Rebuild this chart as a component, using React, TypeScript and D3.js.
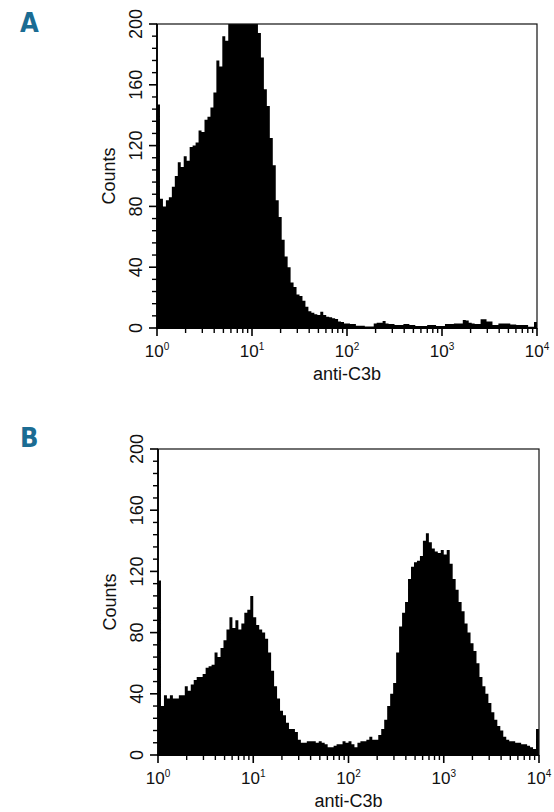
import React from "react";
import * as d3 from "d3";

// ---- Data ----
const Y_TICKS = [0, 40, 80, 120, 160, 200];
const Y_MINOR_STEP = 8;
const X_EXPONENTS = [0, 1, 2, 3, 4];
const X_LABEL = "anti-C3b";
const Y_LABEL = "Counts";
const N_CHANNELS = 128;

// Panel A histogram counts (128 log channels over 10^0 .. 10^4)
const countsA = [
  147, 85, 80, 84, 86, 93, 100, 109, 106, 113,
  110, 119, 120, 122, 130, 129, 137, 139, 145, 155,
  176, 172, 192, 189, 212, 226, 238, 246, 250, 248,
  240, 228, 216, 205, 194, 178, 157, 146, 125, 107,
  84, 73, 58, 47, 40, 30, 27, 22, 21, 18,
  14, 11, 10, 9, 8.5, 10.7, 8.5, 7.4, 7, 6.4,
  6, 4.2, 4, 3, 3, 2.6, 2.6, 1.5, 1.5, 1.5,
  1, 1, 1, 3, 3.5, 3.5, 4.6, 3, 2.6, 2.6,
  2, 2, 2, 2.6, 2.6, 2, 2, 1.3, 1.3, 1.3,
  1.3, 2, 2, 2, 1.3, 1.3, 1.3, 2.6, 2.6, 2.6,
  3, 3, 3, 5.3, 5, 3.5, 3, 2.6, 2.6, 5.7,
  5.7, 4.2, 4.2, 2, 2, 3, 3, 3, 3, 2.3,
  2.3, 2, 2, 2, 2, 0.9, 0.9, 4,
];

// Panel B histogram counts
const countsB = [
  114, 32, 39, 37, 39, 37, 37, 39, 39, 45,
  42, 46, 49, 51, 51, 53, 57, 58, 59, 67,
  64, 70, 75, 82, 90, 83, 88, 82, 86, 93,
  95, 104, 90, 85, 82, 80, 76, 67, 55, 45,
  37, 29, 26, 21, 17, 17, 15, 10, 8, 8,
  9, 9, 9, 8, 9, 8, 7, 5, 5, 6,
  7, 7, 9, 8, 9, 7, 5, 8, 9, 9,
  10, 12, 10, 10, 13, 17, 23, 32, 40, 47,
  67, 84, 93, 100, 115, 123, 126, 127, 130, 140,
  145, 139, 135, 133, 132, 134, 131, 134, 125, 115,
  108, 100, 94, 86, 80, 73, 68, 60, 51, 45,
  40, 34, 28, 23, 19, 16, 12, 10, 9, 9,
  8, 8, 7, 7, 6, 5, 4, 17,
];

const FONT = "'Liberation Sans', Arial, Helvetica, sans-serif";
const LETTER_FONT = "'Liberation Sans Narrow', 'DejaVu Sans Condensed', 'Liberation Sans', sans-serif";

type PanelProps = {
  letter: string;
  counts: number[];
  x0: number;
  x1: number;
  yTop: number;
  yBottom: number;
  letterY: number;
};

function Panel({ letter, counts, x0, x1, yTop, yBottom, letterY }: PanelProps) {
  const x = d3.scaleLog().domain([1, 10000]).range([x0, x1]);
  const y = d3.scaleLinear().domain([0, 200]).range([yBottom, yTop]).clamp(true);

  const edges = d3.range(N_CHANNELS + 1).map((i) => Math.pow(10, (i * 4) / N_CHANNELS));
  const pts = edges.map((e, i) => ({ e, c: counts[Math.min(i, counts.length - 1)] }));
  const area = d3
    .area<{ e: number; c: number }>()
    .x((d) => x(d.e))
    .y0(y(0))
    .y1((d) => y(d.c))
    .curve(d3.curveStepAfter);

  const minorY = d3.range(0, 200 + 0.001, Y_MINOR_STEP).filter((v) => !Y_TICKS.includes(v));
  const minorX: number[] = [];
  for (let p = 0; p < 4; p++) for (let k = 2; k <= 9; k++) minorX.push(k * Math.pow(10, p));

  const labelBaseX = x0 - 15;
  const midY = (yTop + yBottom) / 2;
  const midX = (x0 + x1) / 2;

  return (
    <g>
      <text x={20} y={letterY} fontFamily={LETTER_FONT} fontWeight="bold" fontSize={27} fill="#1b6c93">
        {letter}
      </text>
      <path d={area(pts) || ""} fill="#000" stroke="none" />
      {/* frame */}
      <rect x={x0} y={yTop} width={x1 - x0} height={yBottom - yTop} fill="none" stroke="#111" strokeWidth={1.2} />
      <line x1={x0} x2={x0} y1={yTop} y2={yBottom + 1} stroke="#000" strokeWidth={1.8} />
      <line x1={x0 - 1} x2={x1} y1={yBottom} y2={yBottom} stroke="#000" strokeWidth={1.8} />
      {/* y ticks */}
      {Y_TICKS.map((v) => (
        <line key={"ym" + v} x1={x0 - 8} x2={x0} y1={y(v)} y2={y(v)} stroke="#000" strokeWidth={1.6} />
      ))}
      {minorY.map((v) => (
        <line key={"yn" + v} x1={x0 - 5} x2={x0} y1={y(v)} y2={y(v)} stroke="#000" strokeWidth={1.4} />
      ))}
      {Y_TICKS.map((v) => (
        <text
          key={"yl" + v}
          transform={`translate(${labelBaseX},${y(v)}) rotate(-90)`}
          textAnchor="middle"
          fontFamily={FONT}
          fontSize={18}
          fill="#111"
        >
          {v}
        </text>
      ))}
      <text
        transform={`translate(${x0 - 42},${midY}) rotate(-90)`}
        textAnchor="middle"
        fontFamily={FONT}
        fontSize={18}
        fill="#111"
      >
        {Y_LABEL}
      </text>
      {/* x ticks */}
      {X_EXPONENTS.map((p) => (
        <line
          key={"xm" + p}
          x1={x(Math.pow(10, p))}
          x2={x(Math.pow(10, p))}
          y1={yBottom}
          y2={yBottom + 8}
          stroke="#000"
          strokeWidth={1.6}
        />
      ))}
      {minorX.map((v) => (
        <line key={"xn" + v} x1={x(v)} x2={x(v)} y1={yBottom} y2={yBottom + 5} stroke="#000" strokeWidth={1.4} />
      ))}
      {X_EXPONENTS.map((p) => (
        <text
          key={"xl" + p}
          x={x(Math.pow(10, p))}
          y={yBottom + 29}
          textAnchor="middle"
          fontFamily={FONT}
          fontSize={17}
          fill="#111"
        >
          <tspan>10</tspan>
          <tspan dy={-7} fontSize={10}>
            {p}
          </tspan>
        </text>
      ))}
      <text x={midX} y={yBottom + 52} textAnchor="middle" fontFamily={FONT} fontSize={18} fill="#111">
        {X_LABEL}
      </text>
    </g>
  );
}

export default function App() {
  return (
    <svg
      width={554}
      height={812}
      viewBox="0 0 554 812"
      style={{ position: "absolute", left: 0, top: 0, background: "#fff" }}
    >
      <rect x={0} y={0} width={554} height={812} fill="#fff" />
      <Panel letter="A" counts={countsA} x0={157} x1={537} yTop={24} yBottom={328} letterY={32} />
      <Panel letter="B" counts={countsB} x0={158} x1={539} yTop={449} yBottom={755} letterY={447} />
    </svg>
  );
}
